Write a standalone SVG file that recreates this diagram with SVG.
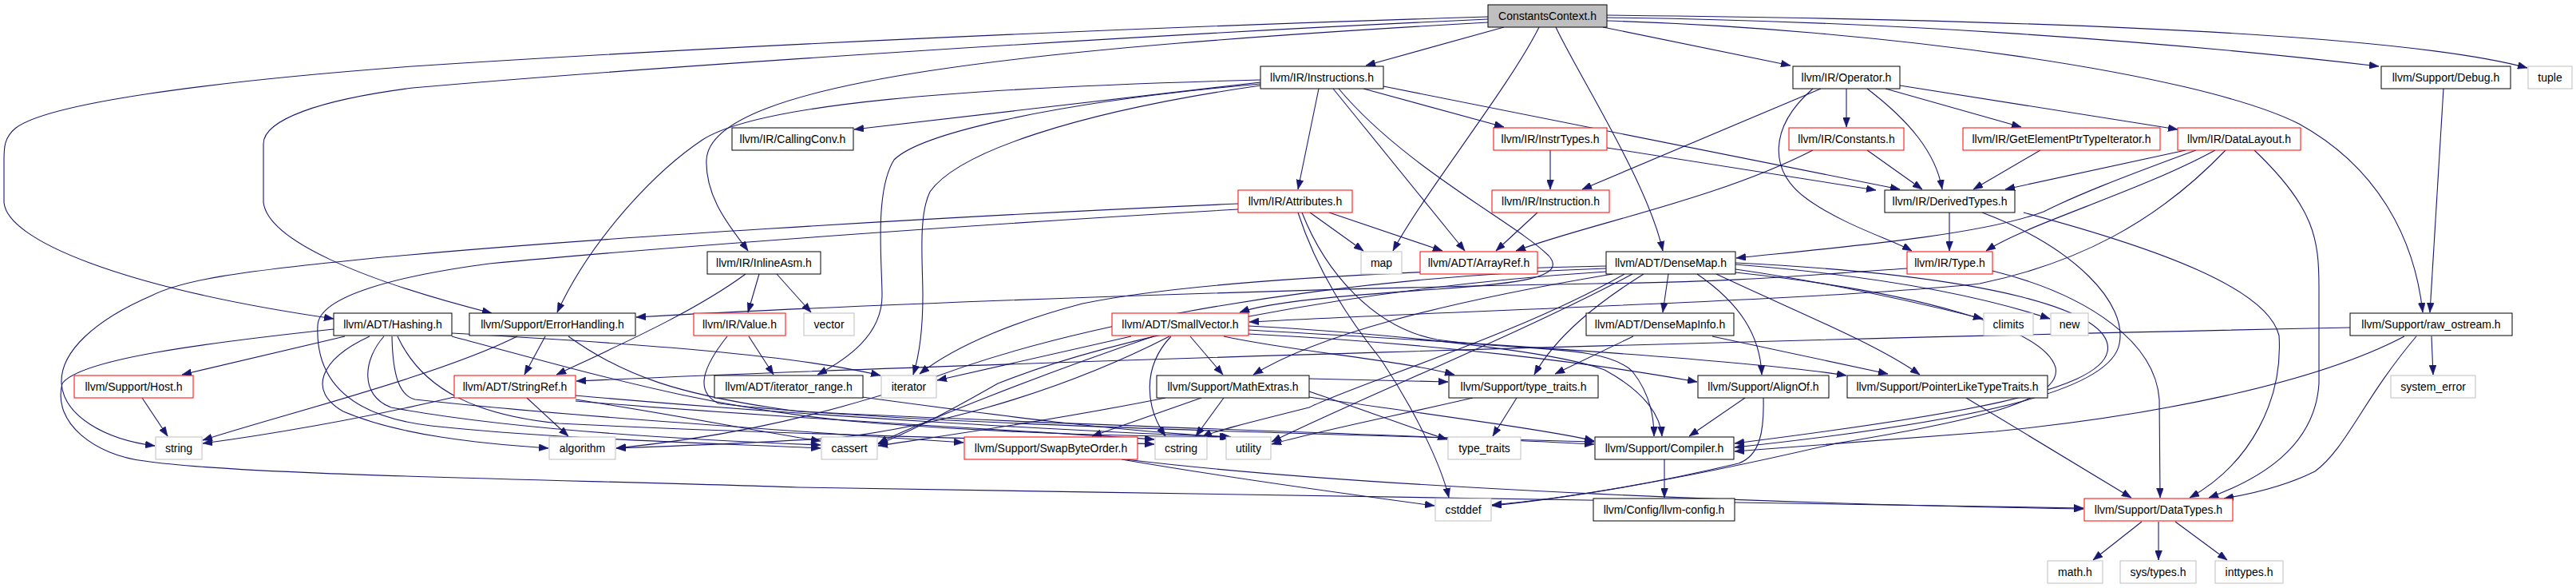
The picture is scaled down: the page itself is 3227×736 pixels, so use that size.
<svg xmlns="http://www.w3.org/2000/svg" width="3227" height="736" viewBox="0 0 3227 736">
<style>
.n rect{fill:#fff;stroke:#000;stroke-width:1}
.n.r rect{stroke:#ff0000}
.n.g rect{stroke:#bfbfbf}
.n.root rect{fill:#bfbfbf}
.n text{font-family:"Liberation Sans",Arial,sans-serif;font-size:14px;fill:#000;text-anchor:middle}
#edges path{fill:none;stroke:#191970;stroke-width:1.1;marker-end:url(#arr)}
</style>
<defs>
<marker id="arr" viewBox="0 0 12 9" refX="12" refY="4.5" markerWidth="12" markerHeight="9" markerUnits="userSpaceOnUse" orient="auto">
<path d="M0,0 L12,4.5 L0,9 z" fill="#191970" stroke="#191970" stroke-width="0.5"/>
</marker>
</defs>
<rect width="3227" height="736" fill="#fff"/>
<g id="edges">
<path d="M1884,34 L1711,82"/>
<path d="M1928,34 C1890,110 1785,240 1745,314"/>
<path d="M1949,34 C1975,90 2065,230 2083,314"/>
<path d="M2008,34 L2243,82"/>
<path d="M2013,22 C2350,26 2700,50 2980,83"/>
<path d="M2013,19 C2500,24 3000,40 3166,85"/>
<path d="M2013,26 C2350,36 2750,90 2880,155 C2980,210 3025,300 3035,391"/>
<path d="M3061,111 L3044,391"/>
<path d="M1864,21 C1400,35 900,58 517,83 C250,103 60,130 20,160 C5,172 5,185 5,200 L5,253 C8,300 150,360 418,399"/>
<path d="M1864,24 C1400,45 800,85 517,110 C400,125 330,150 330,180 L330,253 C335,300 450,350 616,392"/>
<path d="M1864,28 C1300,60 890,100 885,200 C883,250 920,290 937,314"/>
<path d="M1579,103 L1070,162"/>
<path d="M1579,100 C1200,110 950,130 880,175 C820,215 740,300 698,391"/>
<path d="M1579,105 C1300,130 1150,170 1120,200 C1095,240 1105,330 1105,370 C1105,420 1060,450 1024,469"/>
<path d="M1579,107 C1350,140 1200,190 1165,240 C1150,270 1156,330 1156,370 C1156,420 1150,450 1144,469"/>
<path d="M1652,111 L1626,237"/>
<path d="M1670,111 L1835,314"/>
<path d="M1677,111 C1760,210 1900,280 1940,320 C1965,348 1900,355 1800,362 C1680,370 1590,378 1553,391"/>
<path d="M1708,111 L1884,159"/>
<path d="M1733,108 L2380,237"/>
<path d="M2281,111 L1982,237"/>
<path d="M2313,111 L2313,159"/>
<path d="M2271,111 C2215,160 2215,215 2265,250 C2310,282 2370,300 2395,314"/>
<path d="M2339,111 C2390,150 2425,190 2433,237"/>
<path d="M2362,111 L2532,159"/>
<path d="M2380,107 L2728,162"/>
<path d="M1942,188 L1942,237"/>
<path d="M2013,185 L2350,238"/>
<path d="M2271,188 C2150,250 1990,280 1899,314"/>
<path d="M2339,188 L2408,237"/>
<path d="M2556,188 L2472,237"/>
<path d="M2738,188 L2512,237"/>
<path d="M2751,188 C2650,225 2600,245 2560,265 C2480,295 2300,310 2175,323"/>
<path d="M2775,188 C2680,240 2540,280 2488,314"/>
<path d="M2788,188 C2700,280 2600,330 2480,355 C2300,375 1800,390 1565,403"/>
<path d="M2824,188 C2900,260 2905,300 2905,360 L2905,480 C2900,560 2830,600 2767,623"/>
<path d="M1641,266 L1708,314"/>
<path d="M1665,266 L1807,314"/>
<path d="M1626,266 C1650,340 1690,400 1730,450 C1770,510 1805,580 1815,623"/>
<path d="M1631,266 C1660,340 1720,410 1800,425 C1900,440 2010,430 2045,465 C2065,490 2072,520 2072,546"/>
<path d="M1551,255 C1200,270 700,300 450,325 C300,340 230,350 190,370 C120,400 75,440 77,480 C80,520 130,550 194,558"/>
<path d="M1551,262 C1200,282 800,312 613,330 C500,345 400,370 398,407 C395,470 430,520 540,533 C700,550 900,555 1028,561"/>
<path d="M1926,266 L1874,314"/>
<path d="M2442,266 L2442,314"/>
<path d="M2483,266 C2600,310 2665,380 2655,430 C2645,485 2500,525 2173,560"/>
<path d="M2535,266 C2700,310 2840,360 2855,420 C2860,500 2820,580 2743,623"/>
<path d="M2389,336 C2250,345 2200,352 2000,355 C1600,362 1100,380 797,397"/>
<path d="M2496,339 C2620,370 2700,430 2705,500 L2706,623"/>
<path d="M934,343 C870,390 780,430 697,469"/>
<path d="M951,343 L937,391"/>
<path d="M973,343 L1016,391"/>
<path d="M2090,343 L2083,391"/>
<path d="M2059,343 C2000,380 1950,420 1922,469"/>
<path d="M2126,343 C2180,380 2205,420 2207,469"/>
<path d="M2150,343 C2250,390 2350,430 2405,469"/>
<path d="M2174,337 C2300,355 2400,378 2484,399"/>
<path d="M2174,331 C2350,345 2480,370 2568,399"/>
<path d="M2174,329 C2500,345 2650,390 2640,440 C2630,490 2450,520 2173,555"/>
<path d="M2174,341 C2400,365 2560,410 2575,460 C2585,505 2450,530 2300,555 C2150,590 2000,620 1869,633"/>
<path d="M2020,343 C1800,380 1650,420 1570,469"/>
<path d="M2012,333 C1800,338 1500,350 1356,380 C1280,400 1200,430 1152,468"/>
<path d="M2012,336 C1600,350 1300,420 1150,480 C1000,530 880,550 772,561"/>
<path d="M2012,340 C1700,360 1400,420 1250,480 C1180,520 1130,545 1100,556"/>
<path d="M2035,343 C1900,420 1700,480 1640,510 C1560,530 1520,540 1506,547"/>
<path d="M2045,343 C1900,420 1700,500 1593,553"/>
<path d="M432,421 L228,469"/>
<path d="M463,421 C400,450 385,490 430,515 C500,545 600,555 687,561"/>
<path d="M481,421 C455,450 450,495 490,510 C650,540 900,552 1028,557"/>
<path d="M491,421 C492,470 500,495 520,500 C700,520 1000,540 1207,554"/>
<path d="M498,421 C530,490 600,520 700,530 C1000,545 1300,550 1446,556"/>
<path d="M566,417 C800,430 1000,445 1103,470"/>
<path d="M566,421 C750,470 900,515 1100,530 C1300,545 1450,546 1542,547"/>
<path d="M418,412 C250,430 100,450 78,480 C65,530 120,570 181,577 C300,595 700,600 1000,610 C1600,620 2300,630 2610,636"/>
<path d="M648,421 C550,470 350,520 254,551"/>
<path d="M683,421 L657,469"/>
<path d="M712,421 C780,470 850,495 1000,515 C1400,535 1800,545 1997,556"/>
<path d="M938,421 L969,469"/>
<path d="M911,421 C880,460 870,490 900,505 C1100,530 1700,545 1997,553"/>
<path d="M1417,421 L1174,476"/>
<path d="M1445,421 C1300,470 1150,530 1100,555"/>
<path d="M1465,421 C1350,480 1200,530 1050,548 C920,556 850,558 772,561"/>
<path d="M1467,421 C1430,460 1435,510 1460,546"/>
<path d="M1491,421 L1532,469"/>
<path d="M1533,421 C1620,440 1750,450 1822,469"/>
<path d="M1564,418 C1800,430 2000,455 2126,478"/>
<path d="M1564,413 C1900,432 2200,452 2313,470"/>
<path d="M1564,408 C1750,418 1950,440 2010,463 C2060,490 2080,520 2082,546"/>
<path d="M2046,421 L1948,468"/>
<path d="M2145,421 L2365,468"/>
<path d="M2944,410 C2200,425 1200,455 722,477"/>
<path d="M3012,421 C2900,480 2700,520 2500,540 C2350,552 2250,560 2173,565"/>
<path d="M3027,421 C2960,500 2940,560 2900,590 C2860,610 2810,620 2786,624"/>
<path d="M3046,421 L3048,469"/>
<path d="M178,498 L210,546"/>
<path d="M569,497 C450,525 330,545 254,555"/>
<path d="M660,498 L712,546"/>
<path d="M721,500 C850,520 950,540 1028,552"/>
<path d="M721,502 C1000,525 1300,540 1446,550"/>
<path d="M721,495 C1000,520 1350,540 1540,547"/>
<path d="M1080,497 C1250,520 1400,540 1542,547"/>
<path d="M1460,498 C1300,530 1150,550 1100,558"/>
<path d="M1505,498 L1368,546"/>
<path d="M1533,498 L1498,546"/>
<path d="M1640,497 C1800,520 1950,540 1997,552"/>
<path d="M1640,490 C1700,510 1780,540 1813,550"/>
<path d="M1640,474 L1814,478"/>
<path d="M1900,498 L1870,546"/>
<path d="M1845,498 C1750,520 1650,540 1593,556"/>
<path d="M2186,498 L2116,546"/>
<path d="M2209,498 C2210,540 2205,570 2178,580 C2050,610 1950,625 1869,632"/>
<path d="M2463,498 L2670,623"/>
<path d="M2085,575 L2085,623"/>
<path d="M1405,575 C1550,600 1700,620 1797,633"/>
<path d="M1410,575 C1700,610 2200,630 2610,637"/>
<path d="M2683,653 L2622,701"/>
<path d="M2704,653 L2704,701"/>
<path d="M2725,653 L2790,701"/>
</g>
<g id="n_ConstantsContext" class="n root"><rect x="1864" y="6" width="149" height="28"/><text x="1938.5" y="24.5">ConstantsContext.h</text></g>
<g id="n_Instructions" class="n"><rect x="1579" y="83" width="154" height="28"/><text x="1656" y="101.5">llvm/IR/Instructions.h</text></g>
<g id="n_Operator" class="n"><rect x="2246" y="83" width="134" height="28"/><text x="2313" y="101.5">llvm/IR/Operator.h</text></g>
<g id="n_Debug" class="n"><rect x="2983" y="83" width="162" height="28"/><text x="3064" y="101.5">llvm/Support/Debug.h</text></g>
<g id="n_tuple" class="n g"><rect x="3167" y="83" width="55" height="28"/><text x="3194.5" y="101.5">tuple</text></g>
<g id="n_CallingConv" class="n"><rect x="917" y="160" width="152" height="28"/><text x="993" y="178.5">llvm/IR/CallingConv.h</text></g>
<g id="n_InstrTypes" class="n r"><rect x="1871" y="160" width="142" height="28"/><text x="1942" y="178.5">llvm/IR/InstrTypes.h</text></g>
<g id="n_Constants" class="n r"><rect x="2241" y="160" width="144" height="28"/><text x="2313" y="178.5">llvm/IR/Constants.h</text></g>
<g id="n_GEPTI" class="n r"><rect x="2459" y="160" width="247" height="28"/><text x="2582.5" y="178.5">llvm/IR/GetElementPtrTypeIterator.h</text></g>
<g id="n_DataLayout" class="n r"><rect x="2728" y="160" width="154" height="28"/><text x="2805" y="178.5">llvm/IR/DataLayout.h</text></g>
<g id="n_Attributes" class="n r"><rect x="1551" y="238" width="143" height="28"/><text x="1622.5" y="256.5">llvm/IR/Attributes.h</text></g>
<g id="n_Instruction" class="n r"><rect x="1869" y="238" width="147" height="28"/><text x="1942.5" y="256.5">llvm/IR/Instruction.h</text></g>
<g id="n_DerivedTypes" class="n"><rect x="2361" y="238" width="163" height="28"/><text x="2442.5" y="256.5">llvm/IR/DerivedTypes.h</text></g>
<g id="n_InlineAsm" class="n"><rect x="886" y="315" width="142" height="28"/><text x="957" y="333.5">llvm/IR/InlineAsm.h</text></g>
<g id="n_map" class="n g"><rect x="1705" y="315" width="51" height="28"/><text x="1730.5" y="333.5">map</text></g>
<g id="n_ArrayRef" class="n r"><rect x="1779" y="315" width="147" height="28"/><text x="1852.5" y="333.5">llvm/ADT/ArrayRef.h</text></g>
<g id="n_DenseMap" class="n"><rect x="2012" y="315" width="162" height="28"/><text x="2093" y="333.5">llvm/ADT/DenseMap.h</text></g>
<g id="n_Type" class="n r"><rect x="2389" y="315" width="107" height="28"/><text x="2442.5" y="333.5">llvm/IR/Type.h</text></g>
<g id="n_Hashing" class="n"><rect x="418" y="392" width="148" height="28"/><text x="492" y="410.5">llvm/ADT/Hashing.h</text></g>
<g id="n_ErrorHandling" class="n"><rect x="588" y="392" width="208" height="28"/><text x="692" y="410.5">llvm/Support/ErrorHandling.h</text></g>
<g id="n_Value" class="n r"><rect x="869" y="392" width="115" height="28"/><text x="926.5" y="410.5">llvm/IR/Value.h</text></g>
<g id="n_vector" class="n g"><rect x="1007" y="392" width="63" height="28"/><text x="1038.5" y="410.5">vector</text></g>
<g id="n_SmallVector" class="n r"><rect x="1393" y="392" width="171" height="28"/><text x="1478.5" y="410.5">llvm/ADT/SmallVector.h</text></g>
<g id="n_DenseMapInfo" class="n"><rect x="1987" y="392" width="185" height="28"/><text x="2079.5" y="410.5">llvm/ADT/DenseMapInfo.h</text></g>
<g id="n_climits" class="n g"><rect x="2485" y="392" width="62" height="28"/><text x="2516" y="410.5">climits</text></g>
<g id="n_new" class="n g"><rect x="2569" y="392" width="47" height="28"/><text x="2592.5" y="410.5">new</text></g>
<g id="n_raw_ostream" class="n"><rect x="2944" y="392" width="203" height="28"/><text x="3045.5" y="410.5">llvm/Support/raw_ostream.h</text></g>
<g id="n_Host" class="n r"><rect x="93" y="470" width="149" height="28"/><text x="167.5" y="488.5">llvm/Support/Host.h</text></g>
<g id="n_StringRef" class="n r"><rect x="569" y="470" width="152" height="28"/><text x="645" y="488.5">llvm/ADT/StringRef.h</text></g>
<g id="n_iterator_range" class="n"><rect x="895" y="470" width="186" height="28"/><text x="988" y="488.5">llvm/ADT/iterator_range.h</text></g>
<g id="n_iterator" class="n g"><rect x="1104" y="470" width="69" height="28"/><text x="1138.5" y="488.5">iterator</text></g>
<g id="n_MathExtras" class="n"><rect x="1449" y="470" width="191" height="28"/><text x="1544.5" y="488.5">llvm/Support/MathExtras.h</text></g>
<g id="n_type_traits_llvm" class="n"><rect x="1815" y="470" width="187" height="28"/><text x="1908.5" y="488.5">llvm/Support/type_traits.h</text></g>
<g id="n_AlignOf" class="n"><rect x="2127" y="470" width="164" height="28"/><text x="2209" y="488.5">llvm/Support/AlignOf.h</text></g>
<g id="n_PointerLikeTypeTraits" class="n"><rect x="2314" y="470" width="251" height="28"/><text x="2439.5" y="488.5">llvm/Support/PointerLikeTypeTraits.h</text></g>
<g id="n_system_error" class="n g"><rect x="2995" y="470" width="106" height="28"/><text x="3048" y="488.5">system_error</text></g>
<g id="n_string" class="n g"><rect x="195" y="547" width="58" height="28"/><text x="224" y="565.5">string</text></g>
<g id="n_algorithm" class="n g"><rect x="688" y="547" width="83" height="28"/><text x="729.5" y="565.5">algorithm</text></g>
<g id="n_cassert" class="n g"><rect x="1029" y="547" width="70" height="28"/><text x="1064" y="565.5">cassert</text></g>
<g id="n_SwapByteOrder" class="n r"><rect x="1208" y="547" width="217" height="28"/><text x="1316.5" y="565.5">llvm/Support/SwapByteOrder.h</text></g>
<g id="n_cstring" class="n g"><rect x="1447" y="547" width="65" height="28"/><text x="1479.5" y="565.5">cstring</text></g>
<g id="n_utility" class="n g"><rect x="1536" y="547" width="56" height="28"/><text x="1564" y="565.5">utility</text></g>
<g id="n_type_traits" class="n g"><rect x="1814" y="547" width="91" height="28"/><text x="1859.5" y="565.5">type_traits</text></g>
<g id="n_Compiler" class="n"><rect x="1998" y="547" width="174" height="28"/><text x="2085" y="565.5">llvm/Support/Compiler.h</text></g>
<g id="n_cstddef" class="n g"><rect x="1798" y="624" width="70" height="28"/><text x="1833" y="642.5">cstddef</text></g>
<g id="n_llvm_config" class="n"><rect x="1996" y="624" width="177" height="28"/><text x="2084.5" y="642.5">llvm/Config/llvm-config.h</text></g>
<g id="n_DataTypes" class="n r"><rect x="2611" y="624" width="186" height="28"/><text x="2704" y="642.5">llvm/Support/DataTypes.h</text></g>
<g id="n_math" class="n g"><rect x="2565" y="702" width="69" height="28"/><text x="2599.5" y="720.5">math.h</text></g>
<g id="n_sys_types" class="n g"><rect x="2656" y="702" width="95" height="28"/><text x="2703.5" y="720.5">sys/types.h</text></g>
<g id="n_inttypes" class="n g"><rect x="2775" y="702" width="85" height="28"/><text x="2817.5" y="720.5">inttypes.h</text></g>
</svg>
